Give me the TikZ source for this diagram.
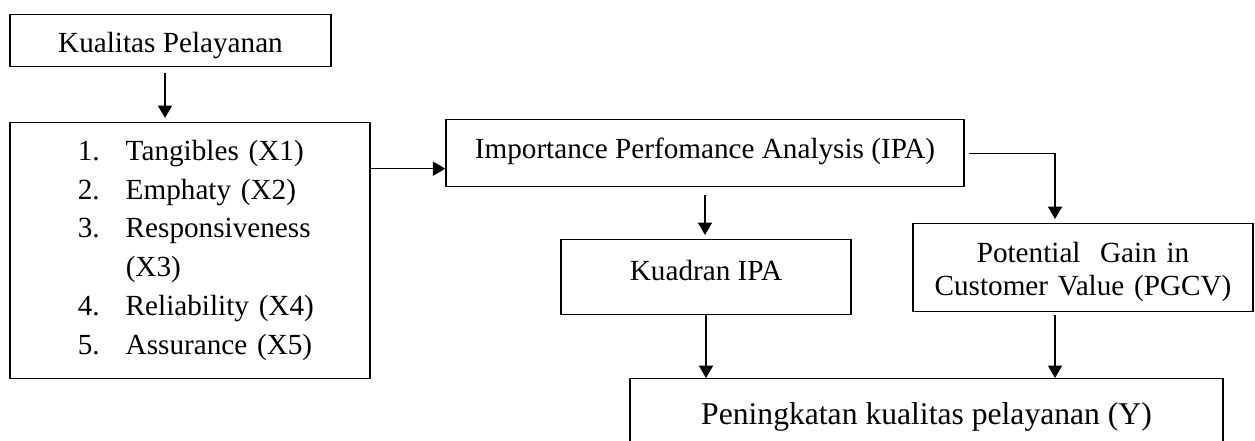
\documentclass[tikz,border=0pt]{standalone}
\usepackage{fontspec}
\setmainfont{Liberation Serif}
\usetikzlibrary{arrows.meta}
\newcommand{\butir}[1]{\hspace*{27.9pt}\makebox[19.7pt][l]{#1}}
\begin{document}
\begin{tikzpicture}[x=0.411pt, y=-0.411pt, font=\fontsize{12}{15.9}\selectfont,
    kotak/.style={draw, line width=0.55pt, inner xsep=0pt, inner ysep=0pt, anchor=north},
    panah/.style={-{Triangle[width=5.8pt, length=5.1pt]}, line width=0.5pt}]
  % kerangka: kualitas pelayanan -> IPA -> kuadran / PGCV -> peningkatan
  \path[use as bounding box, clip] (0,0) rectangle (1255,441);
  \node[kotak, minimum width=131.9pt, text height=15.6pt, text depth=5.75pt] (kual) at (170.5,14) {Kualitas Pelayanan};
  \node[kotak, minimum width=148pt, text width=148pt, align=left, text height=15.6pt, text depth=89.6pt] (dims) at (190,122)
    {\butir{1.}Tangibles (X1)\\
     \butir{2.}Emphaty (X2)\\
     \butir{3.}Responsiveness\\
     \butir{}(X3)\\
     \butir{4.}Reliability (X4)\\
     \butir{5.}Assurance (X5)};
  \node[kotak, minimum width=212.9pt, text height=16pt, text depth=11.5pt] (ipa) at (705,119) {Importance Perfomance Analysis (IPA)};
  \node[kotak, minimum width=119.2pt, text height=16.6pt, text depth=14.2pt] (kuad) at (706,239) {Kuadran IPA};
  \node[kotak, minimum width=139.7pt, text width=139.7pt, align=center, font=\fontsize{12}{13.6}\selectfont,
    text height=15.9pt, text depth=20.3pt] (pgcv) at (1083,223) {Potential\ \ Gain in\\Customer Value (PGCV)};
  \node[kotak, minimum width=243.7pt, font=\fontsize{13}{15.6}\selectfont, text height=18.7pt, text depth=16.4pt] (pen) at (926.5,378)
    {Peningkatan kualitas pelayanan (Y)};
  \coordinate (in) at ([yshift=-6.4pt]ipa.west);
  \coordinate (pin) at ([xshift=-11.5pt]pgcv.north);
  \draw[panah, shorten <=2.5pt, shorten >=1.65pt] ([xshift=-2.26pt]kual.south) -- ([xshift=-2.26pt]kual.south |- dims.north);
  \draw[panah] (dims.east |- in) -- (in);
  \draw[panah, shorten <=3.3pt, shorten >=1.65pt] (ipa.south) -- (ipa.south |- kuad.north);
  \draw[panah, shorten <=1.65pt, shorten >=1.65pt] (ipa.east) -| (pin);
  \draw[panah] (kuad.south) -- (kuad.south |- pen.north);
  \draw[panah, shorten <=1.2pt] (pin |- pgcv.south) -- (pin |- pen.north);
\end{tikzpicture}
\end{document}
